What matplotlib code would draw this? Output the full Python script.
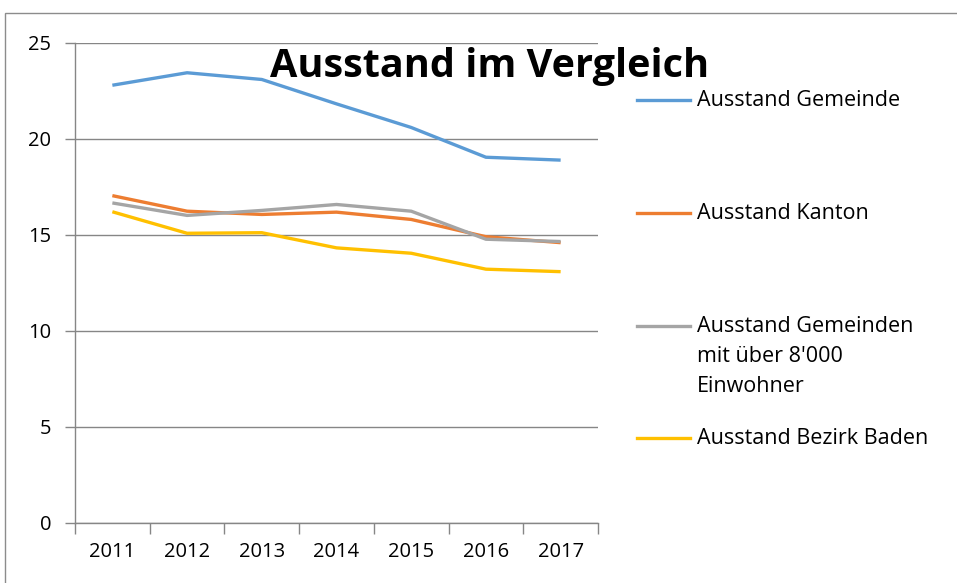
import matplotlib
matplotlib.use("Agg")
import matplotlib.pyplot as plt
from matplotlib.lines import Line2D
from matplotlib.patches import Rectangle
import numpy as np

years = ["2011", "2012", "2013", "2014", "2015", "2016", "2017"]
gemeinde = [22.8, 23.45, 23.1, 21.83, 20.6, 19.05, 18.9]
kanton = [17.05, 16.24, 16.07, 16.19, 15.81, 14.91, 14.6]
gemeinden_8000 = [16.67, 16.02, 16.28, 16.59, 16.24, 14.78, 14.66]
bezirk_baden = [16.21, 15.09, 15.12, 14.33, 14.05, 13.22, 13.09]

labels = ["Ausstand Gemeinde", "Ausstand Kanton",
          "Ausstand Gemeinden\nmit über 8'000\nEinwohner", "Ausstand Bezirk Baden"]
colors = ["#5B9BD5", "#ED7D31", "#A5A5A5", "#FFC000"]
series = [gemeinde, kanton, gemeinden_8000, bezirk_baden]

plt.rcParams['font.family'] = ['Open Sans', 'DejaVu Sans']

W, H = 957, 583
fig = plt.figure(figsize=(W / 100, H / 100), dpi=100)

# outer frame of the chart
fig.patches.append(Rectangle((5 / W, -0.1), 1.1, (H - 13) / H + 0.1,
                             transform=fig.transFigure, fill=False,
                             edgecolor="#8c8c8c", linewidth=1.0))

ax = fig.add_axes([75 / W, (H - 523) / H, 523 / W, 480 / H])
x = np.arange(len(years))
for vals, c in zip(series, colors):
    ax.plot(x, vals, color=c, linewidth=2.4, solid_capstyle="butt")

ax.set_xlim(-0.5, len(years) - 0.5)
ax.set_ylim(0, 25)
ax.set_yticks(range(0, 26, 5))
ax.set_xticks(x)
ax.set_xticklabels(years)
ax.set_xticks(np.arange(-0.5, len(years), 1), minor=True)
ax.tick_params(axis="x", which="major", length=0, pad=14, labelsize=14.5)
ax.tick_params(axis="x", which="minor", length=8, color="#868686", width=1)
ax.tick_params(axis="y", length=7, color="#868686", width=1, pad=10, labelsize=14.5)
ax.yaxis.grid(True, color="#868686", linewidth=1)
ax.set_axisbelow(True)
for s in ["top", "right"]:
    ax.spines[s].set_visible(False)
ax.spines["left"].set_color("#868686")
ax.spines["bottom"].set_color("#868686")
ax.spines["left"].set_linewidth(1)
ax.spines["bottom"].set_linewidth(1)

fig.text(490 / W, 1 - 67 / H, "Ausstand im Vergleich", ha="center", va="center",
         fontsize=28.5, fontweight="bold")

# legend on the right
leg_y = [100, 213, 326, 438]
for lab, c, yy in zip(labels, colors, leg_y):
    fig.add_artist(Line2D([637 / W, 690 / W], [1 - yy / H, 1 - yy / H],
                          transform=fig.transFigure, color=c, linewidth=2.4))
    fig.text(697 / W, 1 - (yy - 10) / H, lab, ha="left", va="top",
             fontsize=15.5, linespacing=1.55)

fig.savefig("out.png", dpi=100)
